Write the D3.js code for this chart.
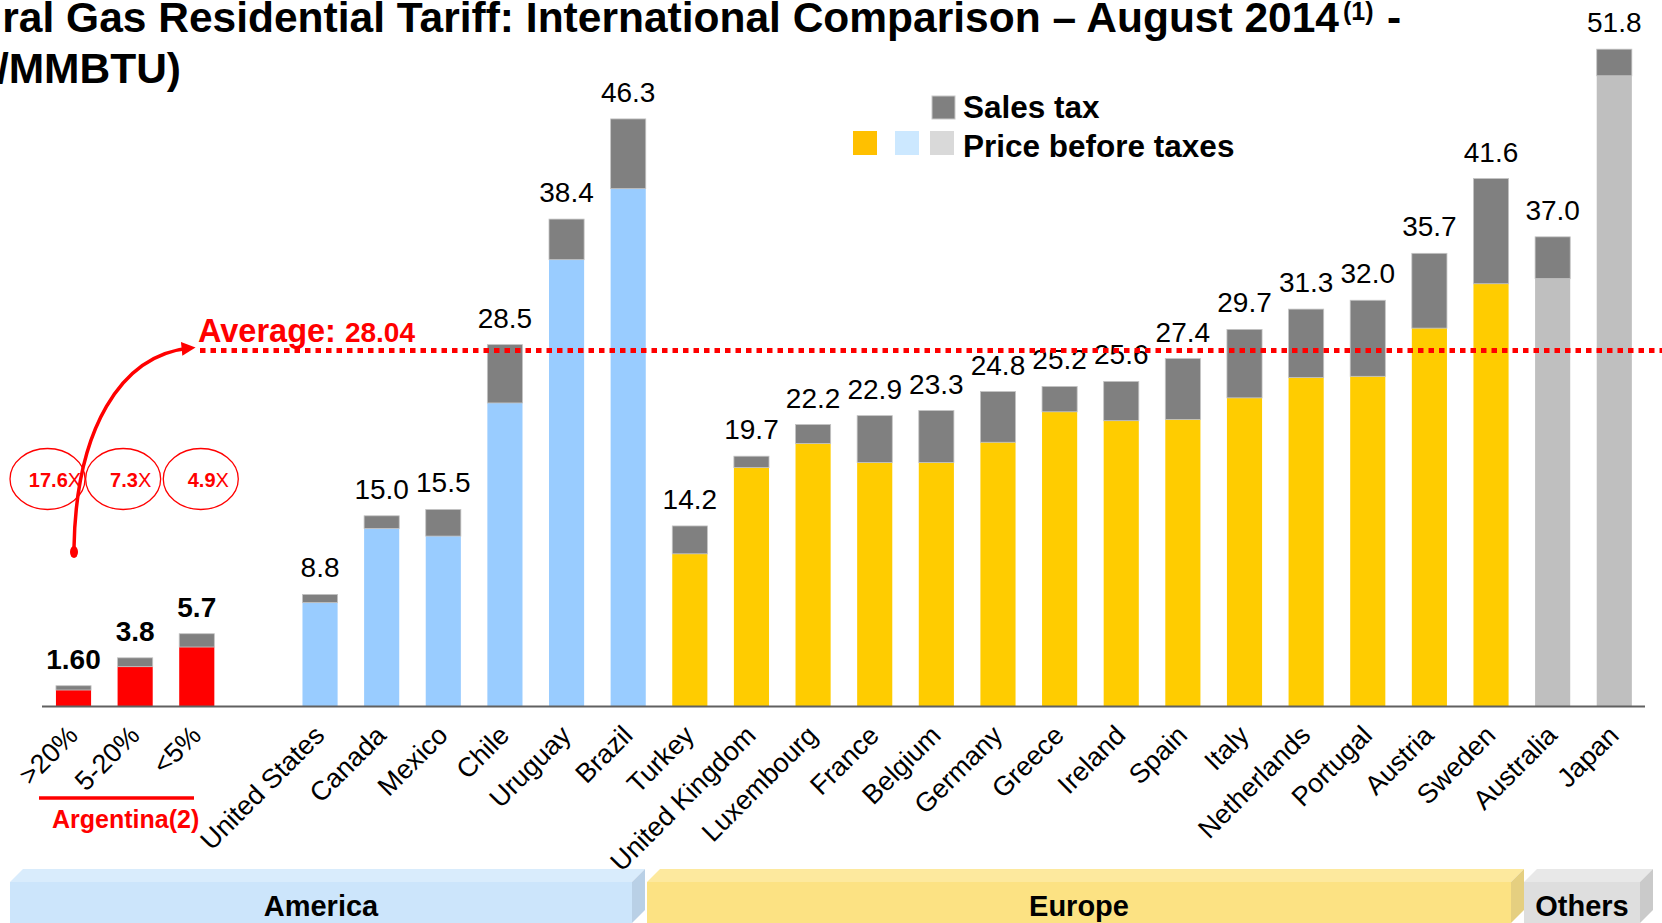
<!DOCTYPE html>
<html>
<head>
<meta charset="utf-8">
<script src="https://cdn.jsdelivr.net/npm/d3@7"></script>
<style>
  html, body { margin: 0; padding: 0; background: #fff; }
  svg { display: block; font-family: "Liberation Sans", Arial, sans-serif; }
</style>
</head>
<body>
<div class="container"></div>
<script>
// categories (the empty one is the gap between Argentina and the US)
var categories = [">20%", "5-20%", "<5%", "",
    "United States", "Canada", "Mexico", "Chile", "Uruguay", "Brazil",
    "Turkey", "United Kingdom", "Luxembourg", "France", "Belgium", "Germany", "Greece",
    "Ireland", "Spain", "Italy", "Netherlands", "Portugal", "Austria", "Sweden",
    "Australia", "Japan"];
var groups = ["arg", "arg", "arg", null,
    "am", "am", "am", "am", "am", "am",
    "eu", "eu", "eu", "eu", "eu", "eu", "eu", "eu", "eu", "eu", "eu", "eu", "eu", "eu",
    "oth", "oth"];
// totals (label) and price before taxes, US$/MMBTU
var totalLabels = ["1.60", "3.8", "5.7", "",
    "8.8", "15.0", "15.5", "28.5", "38.4", "46.3",
    "14.2", "19.7", "22.2", "22.9", "23.3", "24.8", "25.2", "25.6", "27.4", "29.7", "31.3", "32.0", "35.7", "41.6",
    "37.0", "51.8"];
var totals = [1.60, 3.8, 5.7, 0,
    8.8, 15.0, 15.5, 28.5, 38.4, 46.3,
    14.2, 19.7, 22.2, 22.9, 23.3, 24.8, 25.2, 25.6, 27.4, 29.7, 31.3, 32.0, 35.7, 41.6,
    37.0, 51.8];
var prices = [1.26, 3.1, 4.65, 0,
    8.15, 14.0, 13.4, 23.9, 35.2, 40.8,
    12.0, 18.8, 20.7, 19.2, 19.2, 20.8, 23.2, 22.5, 22.6, 24.3, 25.9, 26.0, 29.8, 33.3,
    33.7, 49.7];
var average = 28.04;
var multiples = ["17.6", "7.3", "4.9"];
var regions = ["America", "Europe", "Others"];

var W = 1662, H = 923;
var base = 706;
var colors = { arg: "#FF0000", am: "#99CCFF", eu: "#FFCC00", oth: "#BFBFBF" };
var taxColor = "#808080";

var svg = d3.select(".container").append("svg")
    .attr("width", W).attr("height", H);

var idx = d3.range(categories.length);
var x = d3.scaleBand().domain(idx).range([42.7, 1645.1])
    .paddingInner(0.43).paddingOuter(0.215);
var y = d3.scaleLinear().domain([0, 50]).range([base, base - 634]);
var bw = x.bandwidth();

// title (cut off at the left edge like the slide)
svg.append("text").attr("x", 1339).attr("y", 32).attr("text-anchor", "end")
    .attr("font-size", 42.5).attr("font-weight", "bold")
    .text("Natural Gas Residential Tariff: International Comparison – August 2014");
svg.append("text").attr("x", 1343).attr("y", 20)
    .attr("font-size", 25).attr("font-weight", "bold").text("(1)");
svg.append("text").attr("x", 1387).attr("y", 32)
    .attr("font-size", 42.5).attr("font-weight", "bold").text("-");
svg.append("text").attr("x", 181).attr("y", 83).attr("text-anchor", "end")
    .attr("font-size", 42.5).attr("font-weight", "bold").text("(US$/MMBTU)");

// bars
var bars = idx.filter(function (i) { return groups[i] !== null; });
svg.selectAll("rect.price").data(bars).enter().append("rect")
    .attr("class", "price")
    .attr("x", function (i) { return x(i); })
    .attr("width", bw)
    .attr("y", function (i) { return y(prices[i]); })
    .attr("height", function (i) { return base - y(prices[i]); })
    .attr("fill", function (i) { return colors[groups[i]]; });
svg.selectAll("rect.tax").data(bars).enter().append("rect")
    .attr("class", "tax")
    .attr("x", function (i) { return x(i); })
    .attr("width", bw)
    .attr("y", function (i) { return y(totals[i]); })
    .attr("height", function (i) { return y(prices[i]) - y(totals[i]); })
    .attr("fill", taxColor)
    .attr("stroke", "#c4c4c4").attr("stroke-width", 0.8);

// value labels
svg.selectAll("text.val").data(bars).enter().append("text")
    .attr("class", "val")
    .attr("x", function (i) { return x(i) + bw / 2; })
    .attr("y", function (i) { return y(totals[i]) - 17; })
    .attr("text-anchor", "middle")
    .attr("font-size", 28)
    .attr("font-weight", function (i) { return groups[i] === "arg" ? "bold" : "normal"; })
    .text(function (i) { return totalLabels[i]; });

// axis line
svg.append("line").attr("x1", 42).attr("x2", 1645).attr("y1", base + 0.5).attr("y2", base + 0.5)
    .attr("stroke", "#606060").attr("stroke-width", 2);

// category labels
svg.selectAll("text.cat").data(bars).enter().append("text")
    .attr("class", "cat")
    .attr("transform", function (i) {
        return "translate(" + (x(i) + bw / 2 + 6) + ",737) rotate(-45)";
    })
    .attr("text-anchor", "end")
    .attr("font-size", 27)
    .text(function (i) { return categories[i]; });

// Argentina group label
svg.append("line").attr("x1", 39).attr("x2", 194).attr("y1", 798).attr("y2", 798)
    .attr("stroke", "#FF0000").attr("stroke-width", 3.5);
svg.append("text").attr("x", 52).attr("y", 828)
    .attr("font-size", 25).attr("font-weight", "bold").attr("fill", "#FF0000")
    .text("Argentina(2)");

// average line
var ya = y(average);
svg.append("line").attr("x1", 200).attr("x2", W).attr("y1", ya).attr("y2", ya)
    .attr("stroke", "#FF0000").attr("stroke-width", 5).attr("stroke-dasharray", "5.5,5");
var avgText = svg.append("text").attr("x", 198).attr("y", 342)
    .attr("fill", "#FF0000").attr("font-weight", "bold");
avgText.append("tspan").attr("font-size", 32.5).text("Average: ");
avgText.append("tspan").attr("font-size", 28).text(average.toFixed(2));

// multiples ellipses
var ex = [x(0) + bw / 2 - 26, x(1) + bw / 2 - 12, x(2) + bw / 2 + 4];
var eg = svg.selectAll("g.mult").data(multiples).enter().append("g")
    .attr("class", "mult")
    .attr("transform", function (d, i) { return "translate(" + ex[i] + ",479)"; });
eg.append("ellipse").attr("rx", 37.5).attr("ry", 30.5)
    .attr("fill", "none").attr("stroke", "#FF0000").attr("stroke-width", 1.3);
var mt = eg.append("text").attr("x", 7.5).attr("y", 8).attr("text-anchor", "middle")
    .attr("fill", "#FF0000").attr("font-size", 20);
mt.append("tspan").attr("font-weight", "bold").text(function (d) { return d; });
mt.append("tspan").text("X");

// curved arrow from Argentina to the average
svg.append("defs").append("marker")
    .attr("id", "arr").attr("viewBox", "0 0 10 10").attr("refX", 6).attr("refY", 5)
    .attr("markerWidth", 4).attr("markerHeight", 4).attr("orient", "auto")
    .append("path").attr("d", "M0,0 L10,5 L0,10 Z").attr("fill", "#FF0000");
svg.append("path")
    .attr("d", "M74,548 C76,430 120,355 190,348")
    .attr("fill", "none").attr("stroke", "#FF0000").attr("stroke-width", 3.5)
    .attr("marker-end", "url(#arr)");
svg.append("ellipse").attr("cx", 74).attr("cy", 552).attr("rx", 4).attr("ry", 6)
    .attr("fill", "#FF0000");

// legend
var lg = svg.append("g");
lg.append("rect").attr("x", 932).attr("y", 96).attr("width", 23).attr("height", 23)
    .attr("fill", taxColor).attr("stroke", "#c8c8c8").attr("stroke-width", 1);
lg.append("text").attr("x", 963).attr("y", 118).attr("font-size", 31.5)
    .attr("font-weight", "bold").text("Sales tax");
var swatches = ["#FFC000", "#CCE8FF", "#D9D9D9"];
var swx = [853, 895, 930];
lg.selectAll("rect.sw").data(swatches).enter().append("rect")
    .attr("class", "sw")
    .attr("x", function (d, i) { return swx[i]; }).attr("y", 131)
    .attr("width", 24).attr("height", 24).attr("fill", function (d) { return d; });
lg.append("text").attr("x", 963).attr("y", 157).attr("font-size", 31.5)
    .attr("font-weight", "bold").text("Price before taxes");

// region boxes (front, top and side faces)
var regX = [[10, 632], [647, 1511], [1524, 1640]];
var regFill = [["#CCE5FB", "#D9ECFC", "#B9D0E6"], ["#FCE283", "#FDE99E", "#E5CF80"], ["#DEDEDE", "#E8E8E8", "#CACACA"]];
var boxTop = 882, dep = 13;
regions.forEach(function (name, i) {
    var x0 = regX[i][0], x1 = regX[i][1];
    svg.append("rect").attr("x", x0).attr("y", boxTop).attr("width", x1 - x0).attr("height", H - boxTop)
        .attr("fill", regFill[i][0]);
    svg.append("path")
        .attr("d", "M" + x0 + "," + boxTop + " L" + (x0 + dep) + "," + (boxTop - dep) +
            " L" + (x1 + dep) + "," + (boxTop - dep) + " L" + x1 + "," + boxTop + " Z")
        .attr("fill", regFill[i][1]);
    svg.append("path")
        .attr("d", "M" + x1 + "," + boxTop + " L" + (x1 + dep) + "," + (boxTop - dep) +
            " L" + (x1 + dep) + "," + (H - dep) + " L" + x1 + "," + H + " Z")
        .attr("fill", regFill[i][2]);
    svg.append("text").attr("x", (x0 + x1) / 2).attr("y", 916)
        .attr("text-anchor", "middle").attr("font-size", 29).attr("font-weight", "bold")
        .text(name);
});
</script>
</body>
</html>
